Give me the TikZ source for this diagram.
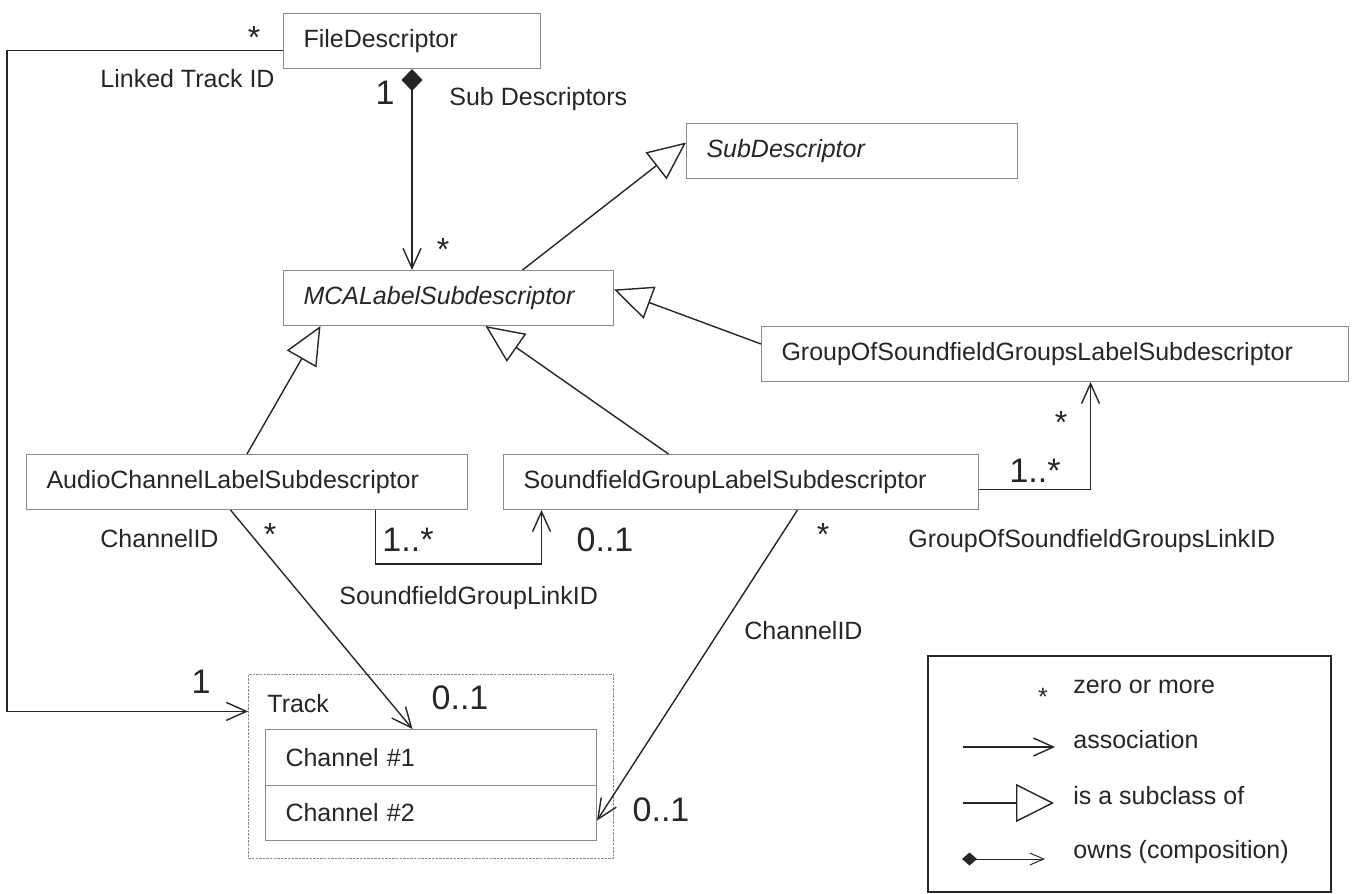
\documentclass[tikz,border=0pt]{standalone}
\usepackage{fontspec}
\setmainfont{Liberation Sans}
\usetikzlibrary{arrows.meta}

\definecolor{boxgray}{HTML}{8A8A8A}
\definecolor{ink}{HTML}{262626}

\tikzset{
  cls/.style={draw=boxgray, line width=0.5pt, rectangle, anchor=north west,
    inner xsep=10pt, inner ysep=0pt, minimum height=27.5pt, align=left},
  trackbox/.style={draw=boxgray, line width=0.4pt, dash pattern=on 1.2pt off 0.6pt,
    anchor=north west, inner sep=0pt},
  assoc/.style={draw=ink, line width=0.7pt, -{Straight Barb[length=10pt,width=9pt]}},
  gen/.style={draw=ink, line width=0.7pt, -{Triangle[open,length=19pt,width=17pt]}},
  comp/.style={draw=ink, line width=0.7pt,
    {Diamond[length=11pt,width=10.5pt]}-{Straight Barb[length=10pt,width=9pt]}},
  mult/.style={inner sep=0pt, font=\fontsize{17}{20}\selectfont},
  star/.style={inner sep=0pt, font=\fontsize{16}{18}\selectfont},
  lbl/.style={anchor=base west, inner sep=0pt},
}

\begin{document}
\begin{tikzpicture}[x=0.5pt, y=-0.5pt, font=\fontsize{12.5}{15}\selectfont, text=ink]
	\useasboundingbox (0,0) rectangle (1352,893);

	% 类框
	\node[cls, text width=108.5pt] (fd) at (283,13) {FileDescriptor};
	\node[cls, text width=145.5pt] (sub) at (686,123) {\itshape SubDescriptor};
	\node[cls, text width=145pt] (mca) at (283,270) {\itshape MCALabelSubdescriptor};
	\node[cls, text width=273.5pt] (gosg) at (761,326) {GroupOfSoundfieldGroupsLabelSubdescriptor};
	\node[cls, text width=200.5pt] (acl) at (26,454) {AudioChannelLabelSubdescriptor};
	\node[cls, text width=217.5pt] (sgl) at (503,454) {SoundfieldGroupLabelSubdescriptor};

	% Track 与两个声道
	\node[trackbox, minimum width=182.5pt, minimum height=92pt] (track) at (248,674) {};
	\node[lbl] (tracklbl) at (267,712) {Track};
	\node[cls, text width=145.5pt, minimum height=28pt] (ch1) at (265,729) {Channel \#1};
	\node[cls, text width=145.5pt] (ch2) at (265,785) {Channel \#2};

	% FileDescriptor -> Track
	\draw[assoc] ([yshift=-4.75pt]fd.west) -| ([xshift=-120.5pt,yshift=27.5pt]track.west)
		-- ([yshift=27.5pt]track.west);
	\node[star] (m1) at (254,37) {*};
	\node[lbl] (ltid) at (100,88) {Linked Track ID};
	\node[mult] (m2) at (201,682) {1};

	% FileDescriptor 拥有 MCALabelSubdescriptor
	\draw[comp] (fd.south) -- (fd.south |- mca.north);
	\node[mult] (m3) at (385,93) {1};
	\node[lbl] (sdl) at (449,106) {Sub Descriptors};
	\node[star] (m4) at (443,249) {*};

	% 继承关系
	\draw[gen] ([xshift=37pt]mca.north) -- ([yshift=4.25pt]sub.west);
	\draw[gen] ([yshift=5pt]gosg.west) -- ([yshift=4.25pt]mca.east);
	\draw[gen] (acl.north) -- ([xshift=-64pt]mca.south);
	\draw[gen] ([xshift=-36.25pt]sgl.north) -- ([xshift=18.5pt]mca.south);

	% AudioChannel -> SoundfieldGroup
	\draw[assoc] ([xshift=64.25pt]acl.south) |- ([xshift=-99.75pt,yshift=-27pt]sgl.south)
		-- ([xshift=-99.75pt]sgl.south);
	\node[mult] (m5) at (408,540) {1..*};
	\node[mult] (m6) at (605,540) {0..1};
	\node[lbl] (sgli) at (339,604) {SoundfieldGroupLinkID};

	% SoundfieldGroup -> GroupOfSoundfieldGroups
	\draw[assoc] ([yshift=-3.75pt]sgl.east) -| ([xshift=17.75pt]gosg.south);
	\node[mult] (m7) at (1035,471) {1..*};
	\node[star] (m8) at (1061,422) {*};
	\node[lbl] (gsli) at (908,547) {GroupOfSoundfieldGroupsLinkID};

	% ChannelID 关联
	\draw[assoc] ([xshift=-8.25pt]acl.south) -- ([xshift=-9.25pt]ch1.north);
	\node[star] (m9) at (270,534) {*};
	\node[lbl] (cid1) at (100,547) {ChannelID};
	\node[mult] (m10) at (460,698) {0..1};

	\draw[assoc] ([xshift=28.25pt]sgl.south) -- ([yshift=-3.75pt]ch2.east);
	\node[star] (m11) at (823,534) {*};
	\node[lbl] (cid2) at (744,639) {ChannelID};
	\node[mult] (m12) at (661,810) {0..1};

	% 图例
	\node[draw=ink, line width=1pt, minimum width=201.5pt, minimum height=118pt,
		anchor=north west, inner sep=0pt] (legend) at (927,655) {};
	\node[inner sep=0pt] (lstar) at (1043,697) {*};
	\node[lbl] (lt1) at (1073,693) {zero or more};
	\coordinate (la1) at (963,747);
	\coordinate (la2) at (1055,747);
	\draw[assoc] (la1) -- (la2);
	\node[lbl] (lt2) at (1073,748) {association};
	\coordinate (lg1) at (963,803);
	\coordinate (lg2) at (1054,803);
	\draw[draw=ink, line width=0.7pt, -{Triangle[open,length=19pt,width=19pt]}] (lg1) -- (lg2);
	\node[lbl] (lt3) at (1073,804) {is a subclass of};
	\coordinate (lc1) at (962,859);
	\coordinate (lc2) at (1045,859);
	\draw[draw=ink, line width=0.5pt,
		{Diamond[length=7.5pt,width=6.5pt]}-{Straight Barb[length=7pt,width=6pt]}] (lc1) -- (lc2);
	\node[lbl] (lt4) at (1073,858) {owns (composition)};
\end{tikzpicture}
\end{document}
